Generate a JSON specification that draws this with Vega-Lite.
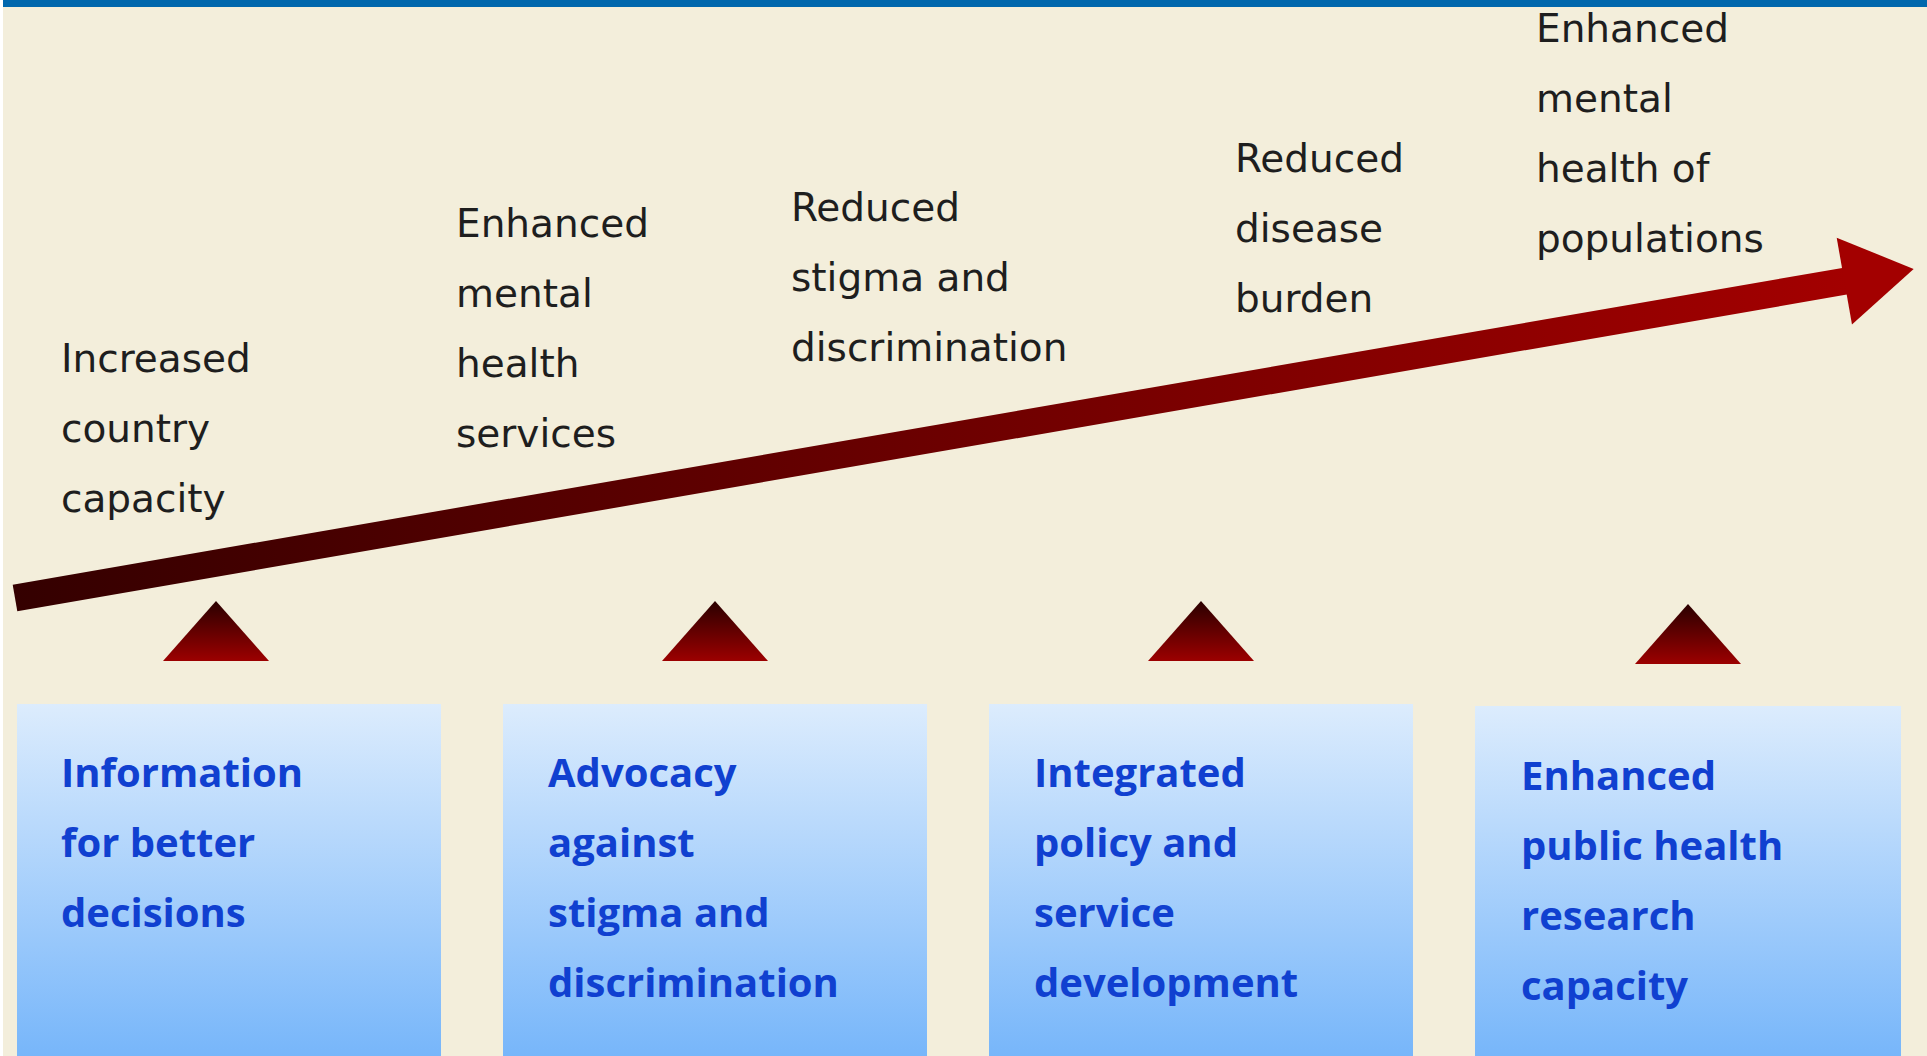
{
  "$schema": "https://vega.github.io/schema/vega-lite/v6.json",
  "width": 1927,
  "height": 1056,
  "autosize": {"type": "none"},
  "padding": 0,
  "background": "#f3eedb",
  "config": {"view": {"stroke": null}},
  "datasets": {
    "strip": [{"x": 0, "x2": 3, "y": 0, "y2": 1056}],
    "topbar": [{"x": 3, "x2": 1927, "y": 0, "y2": 7}],
    "boxes": [
      {"id": 1, "x": 17, "x2": 441, "y": 704, "y2": 1056},
      {"id": 2, "x": 503, "x2": 927, "y": 704, "y2": 1056},
      {"id": 3, "x": 989, "x2": 1413, "y": 704, "y2": 1056},
      {"id": 4, "x": 1475, "x2": 1901, "y": 706, "y2": 1056}
    ],
    "pointers": [
      {"id": 1, "x": 216, "y": 631},
      {"id": 2, "x": 715, "y": 631},
      {"id": 3, "x": 1201, "y": 631},
      {"id": 4, "x": 1688, "y": 634}
    ],
    "shaft": [
      {"x": 15, "y": 598},
      {"x": 1846, "y": 281}
    ],
    "head": [{"x": 1879, "y": 275}],
    "outcomes": [
      {"x": 61, "y": 372, "t": "Increased"},
      {"x": 61, "y": 442, "t": "country"},
      {"x": 61, "y": 512, "t": "capacity"},
      {"x": 456, "y": 237, "t": "Enhanced"},
      {"x": 456, "y": 307, "t": "mental"},
      {"x": 456, "y": 377, "t": "health"},
      {"x": 456, "y": 447, "t": "services"},
      {"x": 791, "y": 221, "t": "Reduced"},
      {"x": 791, "y": 291, "t": "stigma and"},
      {"x": 791, "y": 361, "t": "discrimination"},
      {"x": 1235, "y": 172, "t": "Reduced"},
      {"x": 1235, "y": 242, "t": "disease"},
      {"x": 1235, "y": 312, "t": "burden"},
      {"x": 1536, "y": 42, "t": "Enhanced"},
      {"x": 1536, "y": 112, "t": "mental"},
      {"x": 1536, "y": 182, "t": "health of"},
      {"x": 1536, "y": 252, "t": "populations"}
    ],
    "actions": [
      {"x": 61, "y": 787, "t": "Information"},
      {"x": 61, "y": 857, "t": "for better"},
      {"x": 61, "y": 927, "t": "decisions"},
      {"x": 548, "y": 787, "t": "Advocacy"},
      {"x": 548, "y": 857, "t": "against"},
      {"x": 548, "y": 927, "t": "stigma and"},
      {"x": 548, "y": 997, "t": "discrimination"},
      {"x": 1034, "y": 787, "t": "Integrated"},
      {"x": 1034, "y": 857, "t": "policy and"},
      {"x": 1034, "y": 927, "t": "service"},
      {"x": 1034, "y": 997, "t": "development"},
      {"x": 1521, "y": 790, "t": "Enhanced"},
      {"x": 1521, "y": 860, "t": "public health"},
      {"x": 1521, "y": 930, "t": "research"},
      {"x": 1521, "y": 1000, "t": "capacity"}
    ]
  },
  "layer": [
    {
      "data": {"name": "strip"},
      "mark": {"type": "rect", "fill": "#ffffff"},
      "encoding": {
        "x": {"field": "x", "type": "quantitative", "scale": {"domain": [0, 1927], "nice": false, "zero": false}, "axis": null},
        "x2": {"field": "x2"},
        "y": {"field": "y", "type": "quantitative", "scale": {"domain": [0, 1056], "nice": false, "zero": false, "reverse": true}, "axis": null},
        "y2": {"field": "y2"}
      }
    },
    {
      "data": {"name": "topbar"},
      "mark": {"type": "rect", "fill": "#0067ad"},
      "encoding": {
        "x": {"field": "x", "type": "quantitative", "scale": {"domain": [0, 1927], "nice": false, "zero": false}, "axis": null},
        "x2": {"field": "x2"},
        "y": {"field": "y", "type": "quantitative", "scale": {"domain": [0, 1056], "nice": false, "zero": false, "reverse": true}, "axis": null},
        "y2": {"field": "y2"}
      }
    },
    {
      "data": {"name": "boxes"},
      "mark": {
        "type": "rect",
        "fill": {
          "gradient": "linear", "x1": 0, "y1": 0, "x2": 0, "y2": 1,
          "stops": [
            {"offset": 0, "color": "#dcecfd"},
            {"offset": 1, "color": "#77b6fa"}
          ]
        }
      },
      "encoding": {
        "x": {"field": "x", "type": "quantitative", "scale": {"domain": [0, 1927], "nice": false, "zero": false}, "axis": null},
        "x2": {"field": "x2"},
        "y": {"field": "y", "type": "quantitative", "scale": {"domain": [0, 1056], "nice": false, "zero": false, "reverse": true}, "axis": null},
        "y2": {"field": "y2"}
      }
    },
    {
      "data": {"name": "pointers"},
      "mark": {
        "type": "point",
        "filled": true,
        "opacity": 1,
        "strokeWidth": 0,
        "shape": "M 0 -0.566 L 1 0.566 L -1 0.566 Z",
        "size": 11236,
        "fill": {
          "gradient": "linear", "x1": 0, "y1": 0, "x2": 0, "y2": 1,
          "stops": [
            {"offset": 0, "color": "#2a0000"},
            {"offset": 1, "color": "#9c0000"}
          ]
        }
      },
      "encoding": {
        "x": {"field": "x", "type": "quantitative", "scale": {"domain": [0, 1927], "nice": false, "zero": false}, "axis": null},
        "y": {"field": "y", "type": "quantitative", "scale": {"domain": [0, 1056], "nice": false, "zero": false, "reverse": true}, "axis": null}
      }
    },
    {
      "data": {"name": "shaft"},
      "mark": {
        "type": "line",
        "strokeWidth": 27,
        "strokeCap": "butt",
        "stroke": {
          "gradient": "linear", "x1": 0, "y1": 0, "x2": 1, "y2": 0,
          "stops": [
            {"offset": 0, "color": "#340000"},
            {"offset": 1, "color": "#a30000"}
          ]
        }
      },
      "encoding": {
        "x": {"field": "x", "type": "quantitative", "scale": {"domain": [0, 1927], "nice": false, "zero": false}, "axis": null},
        "y": {"field": "y", "type": "quantitative", "scale": {"domain": [0, 1056], "nice": false, "zero": false, "reverse": true}, "axis": null}
      }
    },
    {
      "data": {"name": "head"},
      "mark": {
        "type": "point",
        "filled": true,
        "opacity": 1,
        "strokeWidth": 0,
        "fill": "#a30000",
        "shape": "M -0.8 -1 L 0.8 0 L -0.8 1 Z",
        "size": 7744,
        "angle": -10
      },
      "encoding": {
        "x": {"field": "x", "type": "quantitative", "scale": {"domain": [0, 1927], "nice": false, "zero": false}, "axis": null},
        "y": {"field": "y", "type": "quantitative", "scale": {"domain": [0, 1056], "nice": false, "zero": false, "reverse": true}, "axis": null}
      }
    },
    {
      "data": {"name": "outcomes"},
      "mark": {
        "type": "text",
        "align": "left",
        "baseline": "alphabetic",
        "font": "DejaVu Sans",
        "fontSize": 39,
        "fill": "#1e1e1e"
      },
      "encoding": {
        "x": {"field": "x", "type": "quantitative", "scale": {"domain": [0, 1927], "nice": false, "zero": false}, "axis": null},
        "y": {"field": "y", "type": "quantitative", "scale": {"domain": [0, 1056], "nice": false, "zero": false, "reverse": true}, "axis": null},
        "text": {"field": "t", "type": "nominal"}
      }
    },
    {
      "data": {"name": "actions"},
      "mark": {
        "type": "text",
        "align": "left",
        "baseline": "alphabetic",
        "font": "Open Sans",
        "fontWeight": "bold",
        "fontSize": 40,
        "fill": "#1040d0"
      },
      "encoding": {
        "x": {"field": "x", "type": "quantitative", "scale": {"domain": [0, 1927], "nice": false, "zero": false}, "axis": null},
        "y": {"field": "y", "type": "quantitative", "scale": {"domain": [0, 1056], "nice": false, "zero": false, "reverse": true}, "axis": null},
        "text": {"field": "t", "type": "nominal"}
      }
    }
  ]
}
